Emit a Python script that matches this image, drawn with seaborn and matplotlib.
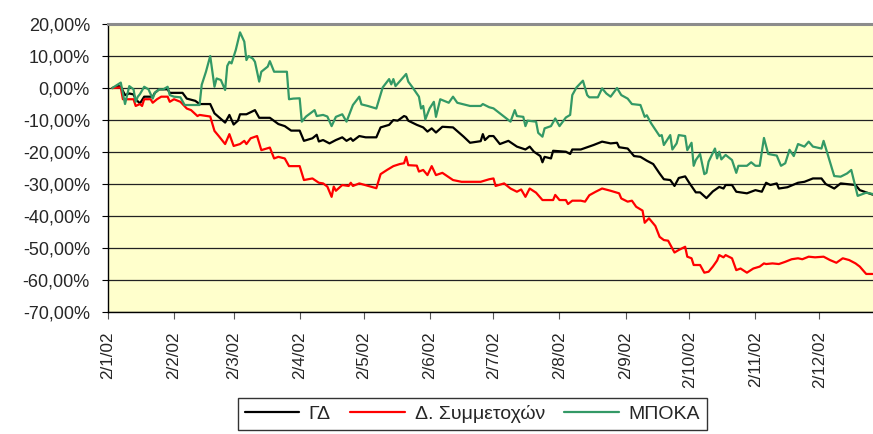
import pandas as pd
import matplotlib
matplotlib.use("Agg")
import matplotlib.pyplot as plt
import matplotlib.dates as mdates
from matplotlib.ticker import FuncFormatter
from matplotlib.lines import Line2D
import seaborn as sns

sns.set_style("white")
plt.rcParams['font.family'] = ['Liberation Sans', 'DejaVu Sans']
plt.rcParams['axes.unicode_minus'] = False

# series names (legend order)
names = ["ΓΔ", "Δ. Συμμετοχών", "ΜΠΟΚΑ"]
colors = ["#000000", "#FF0000", "#339966"]

start = pd.Timestamp("2002-01-02")

# days after 2 Jan 2002 and cumulative change (%)
gd_days = [2, 5, 6, 8, 10, 12, 13, 15, 17, 21, 22, 24, 28, 29, 35, 37, 41, 43, 48, 50,
           55, 57, 59, 61, 62, 65, 69, 71, 76, 80, 83, 86, 90, 92, 96, 98, 99, 101, 104, 107,
           110, 112, 114, 115, 118, 121, 126, 128, 132, 134, 136, 139, 140, 141, 145, 148, 150, 152, 154, 157,
           162, 167, 170, 175, 176, 177, 179, 181, 184, 188, 192, 196, 198, 200, 203, 204, 205, 208, 209, 215,
           217, 218, 222, 228, 232, 236, 239, 240, 244, 247, 250, 253, 256, 259, 261, 264, 266, 268, 271, 273,
           276, 278, 281, 284, 287, 289, 290, 293, 295, 300, 304, 307, 309, 311, 314, 315, 319, 324, 327, 331,
           335, 337, 341, 344, 351, 353, 359]
gd_vals = [0, 0.6, 0.4, -2.2, -1.7, -2.0, -3.5, -4.8, -2.7, -2.7, -1.5, -0.4, -0.4, -1.5, -1.5, -3.3, -4.0, -5.0, -5.0, -7.9,
           -10.8, -8.4, -11.4, -10.2, -8.2, -8.2, -6.9, -9.3, -9.3, -11.25, -11.9, -13.3, -13.3, -16.5, -15.7, -14.6, -16.7, -16.25, -17.3, -16.25,
           -15.4, -16.5, -15.7, -16.5, -15.0, -15.4, -15.4, -12.3, -11.5, -10.0, -10.2, -8.75, -9.0, -10.2, -11.5, -12.3, -13.6, -12.6, -13.9, -12.1,
           -12.3, -15.2, -17.1, -16.6, -14.4, -16.25, -15.0, -15.0, -17.5, -16.5, -18.3, -19.2, -18.3, -19.9, -21.25, -23.2, -21.5, -22.0, -19.6, -19.9,
           -20.6, -19.2, -19.2, -17.8, -16.75, -17.3, -17.1, -18.5, -18.9, -21.25, -21.5, -22.7, -23.75, -26.7, -28.5, -28.75, -30.6, -28.1, -27.6, -29.7,
           -32.6, -32.6, -34.4, -32.3, -30.9, -31.4, -30.3, -30.3, -32.4, -32.9, -31.9, -32.4, -29.6, -30.3, -29.8, -31.4, -31.0, -29.6, -29.3, -28.25,
           -28.25, -30.0, -31.4, -29.8, -30.3, -31.9, -33.3]

sym_days = [2, 6, 7, 12, 13, 15, 16, 17, 20, 21, 23, 25, 28, 29, 31, 34, 37, 39, 42, 43,
            48, 50, 52, 55, 57, 59, 62, 64, 65, 67, 70, 72, 76, 78, 80, 83, 85, 90, 92, 96,
            99, 101, 103, 105, 106, 107, 110, 113, 114, 115, 118, 126, 128, 131, 134, 137, 139, 140, 141, 145,
            146, 148, 150, 152, 154, 157, 162, 166, 175, 179, 181, 182, 186, 189, 192, 194, 196, 198, 201, 204,
            209, 210, 212, 215, 216, 218, 222, 224, 226, 229, 232, 236, 240, 241, 244, 246, 248, 251, 252, 254,
            257, 259, 261, 263, 266, 268, 271, 272, 274, 275, 278, 280, 282, 284, 286, 287, 289, 290, 293, 295,
            297, 300, 303, 306, 308, 309, 312, 315, 318, 321, 324, 326, 329, 332, 336, 339, 342, 345, 348, 351,
            353, 356, 359]
sym_vals = [0, 0.2, -3.5, -3.5, -5.6, -5.0, -5.6, -3.5, -3.5, -4.6, -3.5, -2.7, -2.7, -4.3, -3.5, -4.3, -6.4, -6.9, -8.75, -8.4,
            -8.9, -13.4, -15.0, -17.5, -14.4, -18.1, -17.5, -16.5, -17.5, -15.7, -15.0, -19.4, -18.6, -22.0, -21.5, -22.0, -24.4, -24.4, -28.75, -28.25,
            -29.6, -29.8, -30.8, -34.0, -30.8, -32.1, -30.3, -30.6, -29.6, -30.6, -29.8, -31.3, -26.9, -25.6, -24.4, -23.75, -23.5, -21.5, -24.1, -24.25,
            -26.1, -25.6, -27.2, -24.4, -27.2, -26.5, -28.75, -29.3, -29.3, -28.5, -28.25, -30.6, -29.8, -31.4, -32.4, -31.7, -34.0, -31.4, -32.7, -35.0,
            -35.0, -33.4, -35.0, -35.0, -36.25, -35.2, -35.2, -35.5, -33.5, -32.4, -31.4, -32.1, -32.9, -34.5, -35.5, -35.2, -37.1, -38.3, -42.1, -40.7,
            -43.1, -46.5, -47.5, -47.7, -51.4, -50.6, -49.6, -52.7, -53.2, -55.3, -55.3, -57.7, -57.4, -55.8, -53.9, -52.2, -52.9, -52.2, -53.2, -56.9,
            -56.4, -57.7, -56.4, -55.8, -54.8, -55.0, -54.8, -55.0, -54.3, -53.5, -53.2, -53.5, -52.7, -52.9, -52.7, -53.75, -54.6, -53.2, -53.75, -54.8,
            -55.8, -58.1, -58.1]

mpoka_days = [2, 6, 8, 10, 12, 13, 14, 15, 17, 19, 21, 22, 24, 26, 28, 29, 31, 34, 36, 43,
              44, 46, 48, 50, 51, 53, 55, 56, 57, 58, 60, 62, 64, 65, 66, 68, 69, 71, 72, 75,
              76, 78, 84, 85, 87, 90, 91, 93, 97, 98, 101, 103, 105, 107, 110, 112, 115, 118, 119, 122,
              126, 129, 132, 133, 134, 135, 140, 141, 143, 146, 147, 148, 149, 151, 153, 154, 156, 160, 162, 164,
              170, 175, 176, 179, 181, 184, 189, 191, 192, 195, 196, 197, 201, 202, 204, 205, 208, 210, 212, 215,
              217, 218, 220, 223, 225, 226, 230, 232, 234, 236, 239, 241, 244, 246, 250, 252, 253, 255, 258, 259,
              260, 261, 264, 265, 267, 268, 271, 272, 274, 275, 276, 278, 280, 281, 282, 285, 286, 287, 288, 290,
              293, 295, 296, 300, 302, 304, 306, 308, 310, 314, 316, 318, 320, 322, 324, 327, 329, 331, 335, 336,
              338, 341, 344, 347, 349, 352, 356, 359]
mpoka_vals = [0, 1.7, -5.0, 0.6, -0.4, -4.3, -2.7, -1.9, 0.4, -0.4, -3.3, -1.5, -0.4, -0.4, 0.4, -2.2, -2.7, -2.9, -5.3, -5.3,
              1.0, 5.1, 10.0, 0.4, 3.0, 2.5, -0.6, 6.9, 8.2, 7.7, 11.9, 17.4, 14.5, 8.75, 10.0, 9.2, 8.2, 2.0, 5.1, 6.7,
              8.4, 5.1, 5.1, -3.5, -3.3, -3.2, -10.5, -8.9, -6.9, -8.75, -8.4, -8.9, -11.9, -9.0, -8.2, -10.5, -5.3, -2.7, -5.1, -5.6,
              -6.4, 0.2, 2.8, 1.15, 2.8, 0.6, 4.4, 2.0, 0.2, -2.7, -6.4, -5.6, -9.8, -6.4, -4.3, -9.0, -3.5, -4.6, -2.7, -4.6,
              -5.6, -5.6, -5.0, -6.0, -6.35, -7.9, -10.5, -6.9, -8.75, -9.0, -11.9, -10.2, -10.5, -14.0, -15.2, -12.6, -11.9, -9.5, -11.9, -9.2,
              -8.4, -2.2, 0.2, 2.3, -2.2, -2.9, -2.9, -0.1, -1.7, -2.7, 0.0, -2.2, -3.3, -5.0, -5.3, -9.0, -8.5, -11.0, -14.0, -15.0,
              -14.7, -17.8, -14.7, -19.2, -17.3, -14.7, -15.0, -19.4, -17.1, -24.3, -22.5, -20.6, -26.9, -26.5, -23.0, -18.9, -22.0, -19.9, -22.3, -20.9,
              -22.5, -26.5, -24.3, -24.3, -23.2, -24.3, -24.3, -15.6, -20.6, -21.1, -24.3, -23.5, -19.3, -21.25, -17.5, -18.3, -16.75, -18.3, -18.9, -16.5,
              -20.9, -27.5, -27.7, -26.7, -25.6, -33.7, -32.7, -33.1]

yticks = list(range(-70, 21, 10))

frames = []
for name, days, vals in [(names[0], gd_days, gd_vals),
                         (names[1], sym_days, sym_vals),
                         (names[2], mpoka_days, mpoka_vals)]:
    frames.append(pd.DataFrame({
        "date": start + pd.to_timedelta(days, unit="D"),
        "value": vals,
        "series": name,
    }))
df = pd.concat(frames, ignore_index=True)

fig = plt.figure(figsize=(8.73, 4.34), dpi=100)
ax = fig.add_axes([0.1237, 0.281, 0.8763, 0.6636])
ax.set_facecolor("#FFFFCC")

sns.lineplot(data=df, x="date", y="value", hue="series", hue_order=names,
             palette=colors, estimator=None, sort=True, linewidth=1.6,
             legend=False, ax=ax)

ax.set_ylim(-70, 20)
ax.set_yticks(yticks)
ax.yaxis.set_major_formatter(FuncFormatter(lambda v, p: f"{v:.2f}%".replace(".", ",")))
ax.set_xlim(start, start + pd.Timedelta(days=359.2))
ax.xaxis.set_major_locator(mdates.MonthLocator(bymonthday=2))
ax.xaxis.set_major_formatter(FuncFormatter(
    lambda v, p: (lambda d: f"{d.day}/{d.month}/{d.strftime('%y')}")(mdates.num2date(v))))
ax.set_xlabel("")
ax.set_ylabel("")

ax.grid(axis="y", color="#222222", linewidth=0.9)
ax.set_axisbelow(True)
ax.tick_params(axis="y", labelsize=13, length=4, color="black", direction="out", left=True, pad=9)
ax.tick_params(axis="x", labelsize=12.3, length=5, color="#555555", direction="out", bottom=True,
               rotation=90, pad=9)

ax.spines["left"].set_color("black")
ax.spines["left"].set_linewidth(1.0)
ax.spines["bottom"].set_color("black")
ax.spines["bottom"].set_linewidth(1.0)
ax.spines["top"].set_color("#8C8C8C")
ax.spines["top"].set_linewidth(2.2)
ax.spines["right"].set_visible(False)

handles = [Line2D([], [], color=c, linewidth=1.6) for c in colors]
leg = fig.legend(handles, names, loc="upper center", bbox_to_anchor=(0.541, 0.083),
                 ncol=3, fontsize=14, frameon=True, fancybox=False, edgecolor="black",
                 handlelength=2.8, handletextpad=0.5, columnspacing=1.0, borderpad=0.35,
                 borderaxespad=0)
leg.get_frame().set_linewidth(1.0)

fig.savefig("out.png", dpi=100)
